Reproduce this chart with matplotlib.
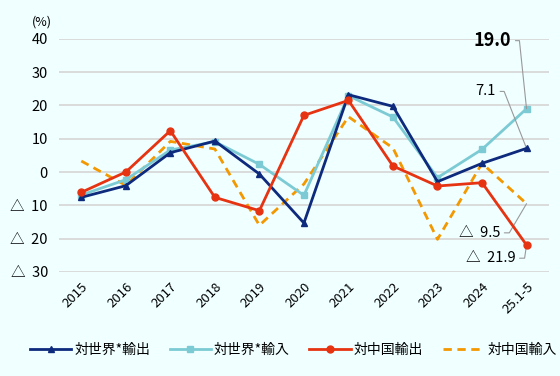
import matplotlib.pyplot as plt

plt.rcParams['font.family'] = ['Noto Sans CJK JP', 'DejaVu Sans']

years = ['2015', '2016', '2017', '2018', '2019', '2020', '2021', '2022', '2023', '2024', '25.1-5']

world_export = [-7.6, -4.1, 5.8, 9.3, -0.6, -15.3, 23.2, 19.7, -2.9, 2.6, 7.1]
world_import = [-6.9, -2.3, 6.6, 9.1, 2.3, -7.0, 22.9, 16.5, -1.7, 6.8, 19.0]
china_export = [-6.1, 0.0, 12.4, -7.6, -11.6, 17.0, 21.5, 1.8, -4.2, -3.2, -21.9]
china_import = [3.3, -4.0, 9.2, 6.9, -16.0, -3.6, 16.6, 7.2, -20.2, 2.6, -9.5]

ytick_vals = [-30, -20, -10, 0, 10, 20, 30, 40]
ytick_labels = ['△  30', '△  20', '△  10', '0', '10', '20', '30', '40']

bg = '#f0ffff'
fig = plt.figure(figsize=(5.6, 3.76), dpi=100, facecolor=bg)
ax = fig.add_axes([0.1054, 0.2766, 0.8746, 0.6204], facecolor=bg)

x = list(range(len(years)))
ax.plot(x, world_export, color='#0d2a7d', lw=2.0, marker='^', ms=5, label='対世界*輸出', zorder=4)
ax.plot(x, world_import, color='#7ccbd4', lw=2.0, marker='s', ms=5, label='対世界*輸入', zorder=3)
ax.plot(x, china_export, color='#e63312', lw=2.0, marker='o', ms=5, label='対中国輸出', zorder=5)
ax.plot(x, china_import, color='#f39800', lw=2.0, ls=(0, (3, 2)), label='対中国輸入', zorder=2)

ax.set_xlim(-0.5, len(years) - 0.5)
ax.set_ylim(-30, 40)
ax.set_yticks(ytick_vals)
ax.set_yticklabels(ytick_labels, fontsize=10.5)
ax.set_xticks(x)
ax.set_xticklabels(years, rotation=45, ha='right', rotation_mode='anchor', fontsize=9.5)
ax.yaxis.grid(True, color='#d6d6d6', lw=1.2)
ax.set_axisbelow(True)
ax.tick_params(length=0)
ax.tick_params(axis='y', pad=8)
ax.tick_params(axis='x', pad=6)
for s in ax.spines.values():
    s.set_visible(False)

ax.text(-0.055, 1.045, '(%)', transform=ax.transAxes, fontsize=9, ha='left', va='bottom')


def callout(txt, xi, yv, dx, dy, stub, size, weight='normal'):
    # text to the left, short horizontal stub, then a line to the point
    ax.annotate(txt, xy=(xi, yv), xytext=(dx, dy), textcoords='offset points',
                fontsize=size, fontweight=weight, ha='right', va='center')
    ax.annotate('', xy=(xi, yv), xytext=(dx + 3, dy), textcoords='offset points',
                arrowprops=dict(arrowstyle='-', color='#999999', lw=0.8, shrinkA=0, shrinkB=0,
                                connectionstyle='arc,angleA=0,armA=%g,angleB=0,armB=0,rad=0' % stub))


last = len(years) - 1
callout('19.0', last, world_import[-1], -11, 49, 4, 13, 'bold')
callout('7.1', last, world_export[-1], -22, 41, 4, 10.5)
callout('△  9.5', last, china_import[-1], -19, -21, 5, 10.5)
callout('△  21.9', last, china_export[-1], -8, -9.5, 5, 10.5)

ax.legend(loc='center', bbox_to_anchor=(0.478, -0.335), ncol=4, frameon=False, fontsize=10,
          handlelength=3.0, handletextpad=0.2, columnspacing=1.4)

fig.savefig('out.png', dpi=100, facecolor=bg)
